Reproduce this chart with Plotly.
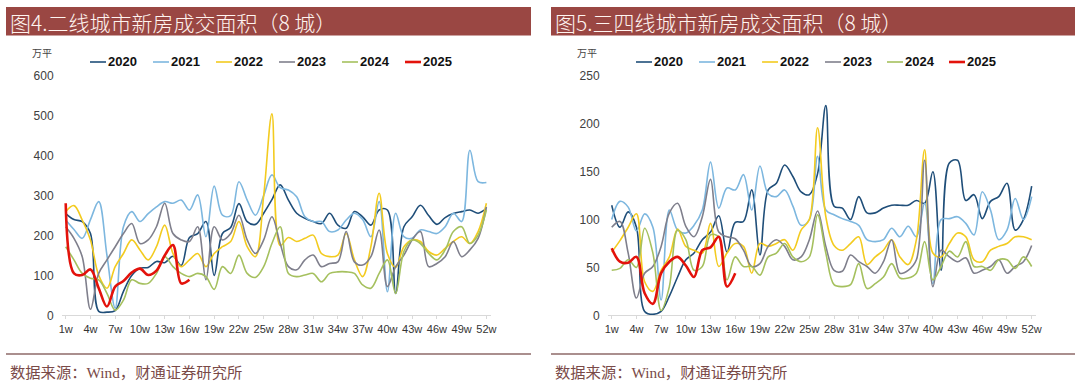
import plotly.graph_objects as go

# ---------------- data ----------------
weeks = list(range(1, 53))
tick_weeks = list(range(1, 53, 3))
tick_labels = [f"{w}w" for w in tick_weeks]
years = ["2020", "2021", "2022", "2023", "2024", "2025"]

# Left: 二线城市 (万平)
L2020 = [255, 240, 235, 205, 10, 8, 12, 60, 100, 118, 120, 135, 132, 148, 125, 195, 205, 235, 100, 205,
         220, 280, 235, 228, 256, 290, 327, 289, 256, 243, 235, 230, 256, 226, 218, 260, 247, 226, 264, 264,
         55, 222, 247, 276, 250, 228, 245, 255, 260, 264, 256, 268]
L2021 = [239, 215, 193, 240, 285, 150, 18, 222, 260, 235, 255, 272, 285, 281, 289, 264, 302, 197, 324, 251,
         250, 335, 289, 251, 300, 352, 320, 314, 297, 247, 235, 235, 210, 214, 239, 256, 240, 197, 285, 59,
         256, 197, 193, 214, 210, 205, 222, 256, 235, 414, 335, 333]
L2022 = [260, 275, 239, 189, 100, 68, 122, 155, 189, 164, 139, 172, 226, 155, 122, 139, 155, 122, 155, 172,
         185, 235, 172, 147, 300, 505, 175, 195, 185, 193, 201, 155, 147, 151, 205, 139, 97, 172, 306, 155,
         120, 172, 189, 185, 160, 151, 168, 185, 197, 180, 210, 281]
L2023 = [222, 193, 147, 15, 105, 139, 172, 205, 230, 180, 189, 222, 281, 205, 189, 185, 222, 89, 222, 189,
         205, 251, 189, 155, 189, 247, 180, 122, 114, 139, 151, 122, 130, 134, 210, 134, 126, 147, 214, 72,
         122, 151, 189, 210, 122, 130, 147, 185, 147, 164, 193, 272]
L2024 = [172, 139, 105, 93, 89, 55, 13, 38, 89, 80, 80, 105, 147, 122, 105, 97, 105, 97, 65, 122,
         105, 151, 105, 95, 122, 180, 222, 105, 97, 101, 105, 84, 105, 109, 109, 105, 76, 68, 105, 139,
         55, 160, 189, 180, 155, 139, 164, 210, 222, 180, 201, 264]
L2025 = [281, 105, 101, 115, 68, 22, 72, 86, 107, 117, 101, 112, 150, 176, 80, 89]

# Right: 三四线城市 (万平)
R2020 = [115, 92, 108, 92, 4, 1, 4, 20, 40, 58, 65, 79, 87, 104, 66, 97, 98, 131, 63, 131,
         138, 157, 145, 129, 126, 148, 219, 114, 112, 100, 124, 107, 107, 112, 115, 115, 115, 120, 117, 150,
         47, 159, 162, 120, 126, 101, 119, 124, 138, 89, 100, 135]
R2021 = [100, 119, 113, 88, 106, 92, 16, 110, 89, 86, 94, 110, 160, 112, 133, 131, 147, 110, 156, 127,
         124, 131, 114, 94, 100, 166, 110, 105, 101, 98, 94, 79, 77, 79, 91, 82, 93, 82, 117, 33,
         100, 101, 103, 96, 84, 129, 110, 79, 89, 122, 100, 124]
R2022 = [66, 78, 92, 106, 35, 25, 47, 61, 90, 72, 68, 65, 96, 51, 65, 75, 72, 44, 75, 72,
         75, 79, 68, 89, 100, 196, 103, 73, 68, 75, 82, 53, 61, 68, 79, 61, 53, 79, 173, 65,
         61, 75, 86, 82, 58, 56, 68, 72, 75, 82, 82, 79]
R2023 = [92, 98, 65, 18, 44, 51, 72, 107, 117, 93, 82, 103, 142, 87, 82, 80, 68, 51, 54, 72,
         79, 72, 58, 61, 79, 109, 72, 47, 46, 63, 56, 51, 44, 56, 79, 44, 47, 58, 162, 30,
         68, 61, 56, 60, 44, 47, 51, 58, 44, 51, 56, 73]
R2024 = [47, 49, 58, 50, 91, 65, 5, 30, 89, 79, 47, 51, 84, 82, 37, 61, 51, 51, 42, 61,
         65, 75, 61, 56, 61, 105, 65, 32, 30, 32, 54, 28, 33, 40, 54, 39, 39, 44, 77, 37,
         51, 67, 61, 77, 51, 51, 47, 58, 58, 49, 61, 51]
R2025 = [70, 56, 55, 61, 23, 12, 44, 56, 61, 52, 40, 68, 71, 82, 30, 44]

left_series = [L2020, L2021, L2022, L2023, L2024, L2025]
right_series = [R2020, R2021, R2022, R2023, R2024, R2025]

titles = ["图4.二线城市新房成交面积（8 城）", "图5.三四线城市新房成交面积（8 城）"]
source_text = "数据来源：Wind，财通证券研究所"
unit_text = "万平"

# ---------------- style ----------------
colors = ["#1F4E79", "#7DB7DF", "#F3CB1F", "#7F7F8C", "#A5C05E", "#E3120B"]
widths = [1.6, 1.6, 1.6, 1.6, 1.6, 2.6]
W, H = 1080, 387
FONT = "Liberation Sans, Arial, sans-serif"
CJK = "Noto Sans CJK SC"
SERIF = "Liberation Serif, Noto Sans CJK SC"


def px(x):
    return x / W


def py(y):
    return (H - y) / H


fig = go.Figure()

for side, series in enumerate([left_series, right_series]):
    xa = "x" if side == 0 else "x2"
    ya = "y" if side == 0 else "y2"
    for i, vals in enumerate(series):
        fig.add_trace(go.Scatter(
            x=weeks[:len(vals)], y=vals, mode="lines", name=years[i],
            line=dict(color=colors[i], width=widths[i], shape="spline", smoothing=1.0),
            xaxis=xa, yaxis=ya, showlegend=False, hoverinfo="skip"))

axis_common_x = dict(range=[0.5, 52.5], tickmode="array", tickvals=tick_weeks, ticktext=tick_labels,
                     showgrid=False, zeroline=False, showline=True, linecolor="#D9D9D9", linewidth=1,
                     ticks="outside", ticklen=3, tickcolor="#D9D9D9", tickangle=0,
                     tickfont=dict(family=FONT, size=11, color="#333333"))
axis_common_y = dict(showgrid=False, zeroline=False, showline=False, ticks="",
                     tickfont=dict(family=FONT, size=12, color="#404040"), ticklabelstandoff=7)

ydom = [py(315.3), py(76)]
fig.update_layout(
    width=W, height=H, margin=dict(l=0, r=0, t=0, b=0, autoexpand=False),
    paper_bgcolor="white", plot_bgcolor="white", showlegend=False,
    xaxis=dict(domain=[px(61.6), px(490.5)], anchor="y", **axis_common_x),
    yaxis=dict(domain=ydom, anchor="x", range=[0, 600], tickvals=[0, 100, 200, 300, 400, 500, 600], **axis_common_y),
    xaxis2=dict(domain=[px(607.6), px(1035.8)], anchor="y2", **axis_common_x),
    yaxis2=dict(domain=ydom, anchor="x2", range=[0, 250], tickvals=[0, 50, 100, 150, 200, 250], **axis_common_y),
)

shapes = []
annotations = []
panels = [(6, 531), (551, 1075)]
legend_starts = [[90, 153, 216, 279, 342, 405], [636, 699, 762, 825, 887, 949]]
for k, (x0, x1) in enumerate(panels):
    # title bar
    shapes.append(dict(type="rect", xref="paper", yref="paper", x0=px(x0), x1=px(x1),
                       y0=py(35.5), y1=py(7), fillcolor="#9A4743", line=dict(width=0), layer="below"))
    annotations.append(dict(xref="paper", yref="paper", x=px(x0 + 2), y=py(21.5), xanchor="left",
                            yanchor="middle", showarrow=False, text=titles[k],
                            font=dict(family=CJK, size=21, color="#FFF4F0", weight=300)))
    # footer rule
    shapes.append(dict(type="line", xref="paper", yref="paper", x0=px(x0), x1=px(x1),
                       y0=py(354), y1=py(354), line=dict(color="#8E6A68", width=1.5)))
    annotations.append(dict(xref="paper", yref="paper", x=px(x0 + 2), y=py(372), xanchor="left",
                            yanchor="middle", showarrow=False, text=source_text,
                            font=dict(family=SERIF, size=15.3, color="#7A4A48")))
    # unit label
    ux = 42 if k == 0 else 587
    annotations.append(dict(xref="paper", yref="paper", x=px(ux), y=py(53), xanchor="center",
                            yanchor="middle", showarrow=False, text=unit_text,
                            font=dict(family=CJK, size=10, color="#444444")))
    # legend (line sample + label)
    for i, lx in enumerate(legend_starts[k]):
        shapes.append(dict(type="line", xref="paper", yref="paper", x0=px(lx), x1=px(lx + 16),
                           y0=py(62), y1=py(62), line=dict(color=colors[i], width=widths[i])))
        annotations.append(dict(xref="paper", yref="paper", x=px(lx + 16), y=py(62), xanchor="left",
                                yanchor="middle", showarrow=False, text=years[i],
                                font=dict(family=FONT, size=13, color="#111111", weight="bold")))

fig.update_layout(shapes=shapes, annotations=annotations)
fig.write_html("out.html", config={"displayModeBar": False, "staticPlot": True},
               post_script="document.body.style.margin='0';document.body.style.padding='0';"
                           "document.body.style.overflow='hidden';")
